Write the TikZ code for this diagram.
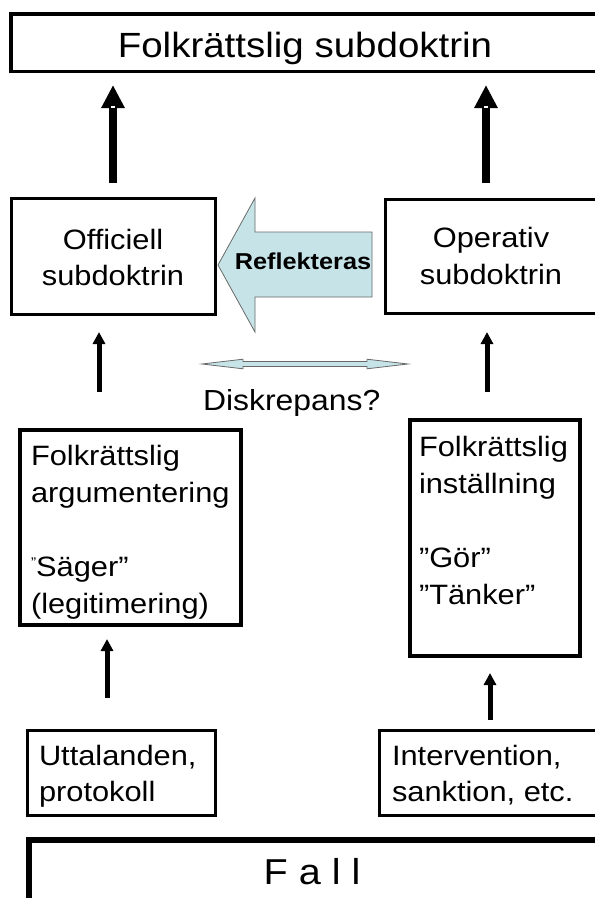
\documentclass[tikz,border=0pt]{standalone}
\usepackage{fontspec}
\setmainfont{Liberation Sans}[FakeStretch=1.1]
\usetikzlibrary{arrows.meta,calc}
\definecolor{refblue}{RGB}{198,228,232}
\definecolor{refedge}{RGB}{105,105,105}
\begin{document}
\begin{tikzpicture}[x=1pt,y=-1pt,
  box/.style={draw=black, inner sep=0pt, outer sep=0pt, anchor=north west},
  txt/.style={inner sep=0pt, outer sep=0pt, font=\fontsize{28}{37}\selectfont},
  bigarr/.style={line width=8pt, -{Triangle[width=22pt,length=23pt]}},
  smallarr/.style={line width=5pt, -{Triangle[width=12pt,length=12pt]}},
  blockarrow/.style={fill=refblue, draw=refedge, line width=0.8pt},
]
\useasboundingbox (0,0) rectangle (595,898);
\clip (0,0) rectangle (595,898);
\fill[white] (0,0) rectangle (595,898);

% boxes
\node[box, line width=3.5pt, minimum width=588pt, minimum height=57.5pt] (top) at (11,14) {};
\node[box, line width=3.5pt, minimum width=204pt, minimum height=116pt] (of) at (11.5,198.5) {};
\node[box, line width=3.5pt, minimum width=225pt, minimum height=114pt] (op) at (385.5,199.5) {};
\node[box, line width=4pt, minimum width=221pt, minimum height=195pt] (lm) at (20,430) {};
\node[box, line width=4pt, minimum width=170pt, minimum height=236pt] (rm) at (410,420) {};
\node[box, line width=3pt, minimum width=188pt, minimum height=85pt] (ut) at (27.5,730.5) {};
\node[box, line width=3pt, minimum width=240pt, minimum height=85pt] (iv) at (379.5,730.5) {};
\node[box, line width=6pt, minimum width=600pt, minimum height=100pt] (fall) at (29,840) {};

% texts
\node[txt, font=\fontsize{35}{42}\selectfont, anchor=base] (toptext) at (305,57) {Folkrättslig subdoktrin};
\node[txt, font=\fontsize{28}{36}\selectfont, align=center, anchor=north] (oftext) at (113,229.5) {Officiell\\subdoktrin};
\node[txt, align=center, anchor=north] (optext) at (491,227.5) {Operativ\\subdoktrin};
\node[txt, align=left, anchor=north west] (lmtext) at (31,445) {Folkrättslig\\argumentering\\[37pt]\raisebox{9pt}{\fontsize{14}{14}\selectfont ”}Säger”\\(legitimering)};
\node[txt, align=left, anchor=north west] (rmtext) at (419,436) {Folkrättslig\\inställning\\[37pt]”Gör”\\”Tänker”};
\node[txt, font=\fontsize{28}{36}\selectfont, align=left, anchor=north west] (uttext) at (39,745.5) {Uttalanden,\\protokoll};
\node[txt, font=\fontsize{28}{36}\selectfont, align=left, anchor=north west] (ivtext) at (392,745.5) {Intervention,\\sanktion, etc.};
\node[txt, font=\fontsize{36}{42}\selectfont, anchor=base] (falltext) at (312,884) {F a l l};

% block arrows
\draw[blockarrow] (218,265) -- (255,198) -- (255,232) -- (372,232) -- (372,297) -- (255,297) -- (255,332) -- cycle;
\node[txt, font=\fontsize{23}{28}\bfseries\selectfont, anchor=base] (refl) at (303,269) {Reflekteras};
\draw[blockarrow] (202,364) -- (243,359.2) -- (243,361.5) -- (367,361.5) -- (367,359.2) -- (408,364)
  -- (367,368.8) -- (367,366.5) -- (243,366.5) -- (243,368.8) -- cycle;
\node[txt, font=\fontsize{29}{36}\selectfont, anchor=base west] (disk) at (203,410) {Diskrepans?};

% arrow columns
\coordinate (cA) at (113,0);
\coordinate (cB) at (486,0);
\coordinate (cC) at (99,0);
\coordinate (cD) at (487,0);
\coordinate (cE) at (107,0);
\coordinate (cF) at (490,0);

\draw[bigarr, shorten <=15.5pt, shorten >=13.5pt] (cA |- of.north) -- (cA |- top.south);
\draw[bigarr, shorten <=16.5pt, shorten >=13.5pt] (cB |- op.north) -- (cB |- top.south);
\draw[smallarr, shorten <=38pt, shorten >=17.5pt] (cC |- lm.north) -- (cC |- of.south);
\draw[smallarr, shorten <=28pt, shorten >=18.5pt] (cD |- rm.north) -- (cD |- op.south);
\draw[smallarr, shorten <=32.5pt, shorten >=14pt] (cE |- ut.north) -- (cE |- lm.south);
\draw[smallarr, shorten <=10.5pt, shorten >=17pt] (cF |- iv.north) -- (cF |- rm.south);

% small white marks in the big arrow heads
\filldraw[fill=white, draw=black, line width=0.4pt] (110.5,105) rectangle (115.5,108);
\filldraw[fill=white, draw=black, line width=0.4pt] (483.5,105) rectangle (488.5,108);
\end{tikzpicture}
\end{document}
